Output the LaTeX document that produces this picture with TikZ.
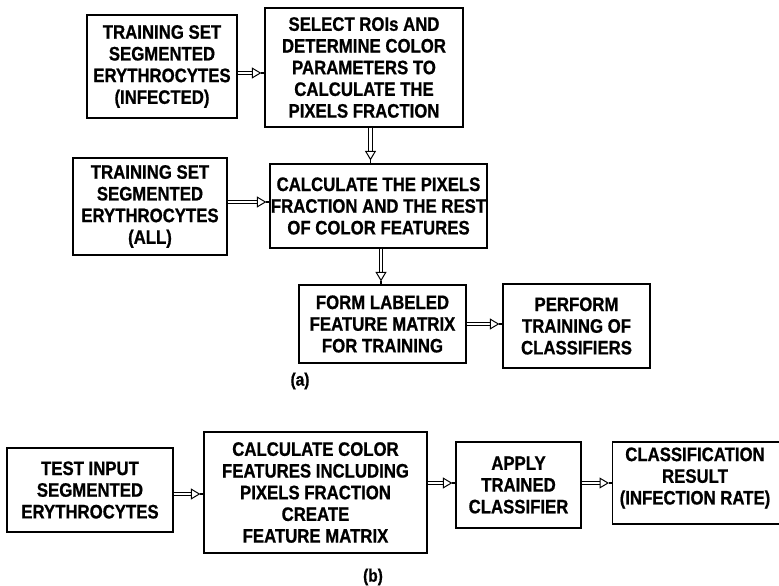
\documentclass[tikz,border=0pt]{standalone}
\usepackage{fontspec}
\setmainfont{Liberation Sans}[FakeStretch=0.86, BoldFeatures={FakeBold=0.8}]
\usetikzlibrary{arrows.meta}
\begin{document}
\begin{tikzpicture}[x=1pt,y=-1pt,
  stepbox/.style={draw, line width=1.2pt, inner sep=0pt, align=center,
    font=\bfseries\fontsize{19.5}{21.7}\selectfont},
  flow/.style={double, double distance=2.8pt, line width=1pt, shorten >=3pt,
    -{Triangle[open, length=9.5pt, width=11pt, line width=1pt]}},
  stub/.style={line width=1.3pt},
  caption/.style={font=\bfseries\fontsize{18}{20}\selectfont}]
\useasboundingbox (0,0) rectangle (779,586);

% (a) training stage
\node[stepbox, minimum width=150, minimum height=103] (a1) at (162,66.5)
  {TRAINING SET\\SEGMENTED\\ERYTHROCYTES\\(INFECTED)};
\node[stepbox, minimum width=198, minimum height=119] (a2) at (364,67.5)
  {SELECT ROIs AND\\DETERMINE COLOR\\PARAMETERS TO\\CALCULATE THE\\PIXELS FRACTION};
\node[stepbox, minimum width=154, minimum height=97] (a3) at (150,206.5)
  {TRAINING SET\\SEGMENTED\\ERYTHROCYTES\\(ALL)};
\node[stepbox, minimum width=217, minimum height=84] (a4) at (378.5,206)
  {CALCULATE THE PIXELS\\FRACTION AND THE REST\\OF COLOR FEATURES};
\node[stepbox, minimum width=167, minimum height=78] (a5) at (382.5,324)
  {FORM LABELED\\FEATURE MATRIX\\FOR TRAINING};
\node[stepbox, minimum width=147, minimum height=84] (a6) at (576.5,326)
  {PERFORM\\TRAINING OF\\CLASSIFIERS};
\node[caption] (la) at (300,381) {(a)};

\draw[flow] ([yshift=-6.5pt]a1.east) -- ([yshift=-6.5pt]a1.east -| a2.west);
\draw[stub] ([yshift=-6.5pt]a1.east -| a2.west) -- ++(-3,0);
\draw[flow] ([xshift=6.5pt]a2.south) -- ([xshift=6.5pt]a2.south |- a4.north);
\draw[stub] ([xshift=6.5pt]a2.south |- a4.north) -- ++(0,-3);
\draw[flow] ([yshift=4.5pt]a3.east) -- ([yshift=4.5pt]a3.east -| a4.west);
\draw[stub] ([yshift=4.5pt]a3.east -| a4.west) -- ++(-3,0);
\draw[flow] ([xshift=2.5pt]a4.south) -- ([xshift=2.5pt]a4.south |- a5.north);
\draw[stub] ([xshift=2.5pt]a4.south |- a5.north) -- ++(0,-3);
\draw[flow] (a5.east) -- (a5.east -| a6.west);
\draw[stub] (a5.east -| a6.west) -- ++(-3,0);

% (b) test stage
\node[stepbox, minimum width=166, minimum height=84] (b1) at (90,490)
  {TEST INPUT\\SEGMENTED\\ERYTHROCYTES};
\node[stepbox, minimum width=223, minimum height=121] (b2) at (315.5,492.5)
  {CALCULATE COLOR\\FEATURES INCLUDING\\PIXELS FRACTION\\CREATE\\FEATURE MATRIX};
\node[stepbox, minimum width=125, minimum height=86] (b3) at (518.5,485)
  {APPLY\\TRAINED\\CLASSIFIER};
\node[stepbox, minimum width=180, minimum height=82, anchor=west] (b4) at (612,483) {};
\node[stepbox, draw=none] (b4t) at (695,478)
  {CLASSIFICATION\\RESULT\\(INFECTION RATE)};
\node[caption] (lb) at (373,577) {(b)};

\draw[flow] ([yshift=-4pt]b1.east) -- ([yshift=-4pt]b1.east -| b2.west);
\draw[stub] ([yshift=-4pt]b1.east -| b2.west) -- ++(-3,0);
\draw[flow] ([yshift=2pt]b3.west -| b2.east) -- ([yshift=2pt]b3.west);
\draw[stub] ([yshift=2pt]b3.west) -- ++(-3,0);
\draw[flow] ([yshift=2pt]b3.east) -- ([yshift=2pt]b3.east -| b4.west);
\draw[stub] ([yshift=2pt]b3.east -| b4.west) -- ++(-3,0);
\end{tikzpicture}
\end{document}
